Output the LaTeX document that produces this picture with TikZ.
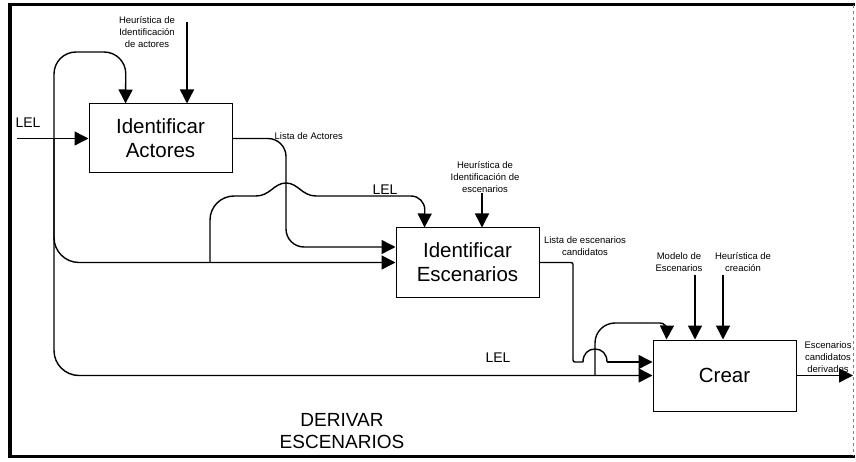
\documentclass[tikz,border=0pt]{standalone}
\usepackage{fontspec}
\setmainfont{Liberation Sans}
\usetikzlibrary{arrows.meta}
\begin{document}
\begin{tikzpicture}[x=1pt,y=-1pt,
  line width=1.4pt,
  arr/.style={-{Triangle[length=14pt,width=14pt]}},
  procbox/.style={draw, line width=1pt, minimum width=143pt, minimum height=69pt,
    align=center, font=\fontsize{20.5}{24}\selectfont, inner sep=0pt},
  small/.style={font=\fontsize{9.5}{12}\selectfont, align=center, inner sep=0pt},
  lel/.style={font=\fontsize{14}{16}\selectfont, inner sep=0pt},
  title/.style={font=\fontsize{19}{22}\selectfont, align=center, inner sep=0pt},
]
\useasboundingbox (0,0) rectangle (856,462);
\fill[white] (0,0) rectangle (856,462);
% frame
\draw[line width=3pt] (8,5) -- (855,5);
\draw[line width=4pt] (10,3.5) -- (10,457.5);
\draw[line width=3pt] (8,456) -- (855,456);
\draw[line width=0.6pt, dashed, gray] (853,5) -- (853,456);

% boxes
\node[procbox] (A) at (160.5,138.5) {Identificar\\Actores};
\node[procbox] (B) at (467.5,262.5) {Identificar\\Escenarios};
\node[procbox, minimum height=71pt] (C) at (724.5,375.5) {Crear};

% LEL input and its branches
\coordinate (lelin) at (17,138.5);
\coordinate (j1) at (54,138.5);
\draw[arr] (lelin) -- (A.west);
\node[lel] (lel1) at (28,123) {LEL};
\draw[arr, rounded corners=22pt] (j1) -- (54,52) -- (126,52) -- ([xshift=37pt]A.north west);
\draw[arr, rounded corners=25pt] (j1) -- (54,262.5) -- (B.west);
\draw[arr, rounded corners=25pt] (j1) -- (54,375.5) -- (C.west);
\node[lel] (lel3) at (498,358) {LEL};

% heuristic for A
\coordinate (hA) at (187,22);
\draw[arr] (hA) -- (hA |- A.north);
\node[small] (lhA) at (147,32) {Heurística de\\Identificación\\de actores};

% Lista de Actores
\draw[arr, rounded corners=18pt] (A.east) -- (286,138.5) -- (286,247) -- ([yshift=15.5pt]B.west);
\node[small, anchor=west] (lblA) at (274,136) {Lista de Actores};

% LEL branch to B top (with hop)
\coordinate (j2) at (210,262.5);
\draw[rounded corners=24pt] (j2) -- (210,196) -- (256,196);
\draw (256,196) .. controls (270,196) and (274,183) .. (286,183)
                .. controls (298,183) and (302,196) .. (316,196);
\draw[arr, rounded corners=14pt] (316,196) -- (425,196) -- ([xshift=29pt]B.north west);
\node[lel] (lel2) at (385,190) {LEL};

% heuristic for B
\coordinate (hB) at (482,193);
\draw[arr] (hB) -- (hB |- B.north);
\node[small] (lhB) at (485,177) {Heurística de\\Identificación de\\escenarios};

% output of B
\draw[rounded corners=2pt] (B.east) -- (573,262.5) -- (573,362) -- (583,362);
\draw (583,362) .. controls (583,354) and (588,349) .. (595,349)
                .. controls (602,349) and (607,354) .. (607,362);
\draw[arr] (607,362) -- ([yshift=13.5pt]C.west);
\node[small] (lblB) at (585,246) {Lista de escenarios\\candidatos};

% branch to C top
\coordinate (j3) at (595,375.5);
\draw[rounded corners=20pt] (j3) -- (595,323) -- (640,323);
\draw[arr, rounded corners=7pt] (640,323) -- (667,323) -- ([xshift=14pt]C.north west);

% controls of C
\coordinate (mC) at (695,275);
\draw[arr] (mC) -- (mC |- C.north);
\node[small] (lmC) at (679,262) {Modelo de\\Escenarios};
\coordinate (hC) at (723,275);
\draw[arr] (hC) -- (hC |- C.north);
\node[small] (lhC) at (743,262) {Heurística de\\creación};

% output of C
\coordinate (outC) at (853,375.5);
\draw[arr] (C.east) -- (outC);
\node[small] (lout) at (828,357) {Escenarios\\candidatos\\derivados};

% title
\node[title] (ttl) at (342,431) {DERIVAR\\ESCENARIOS};
\end{tikzpicture}
\end{document}
